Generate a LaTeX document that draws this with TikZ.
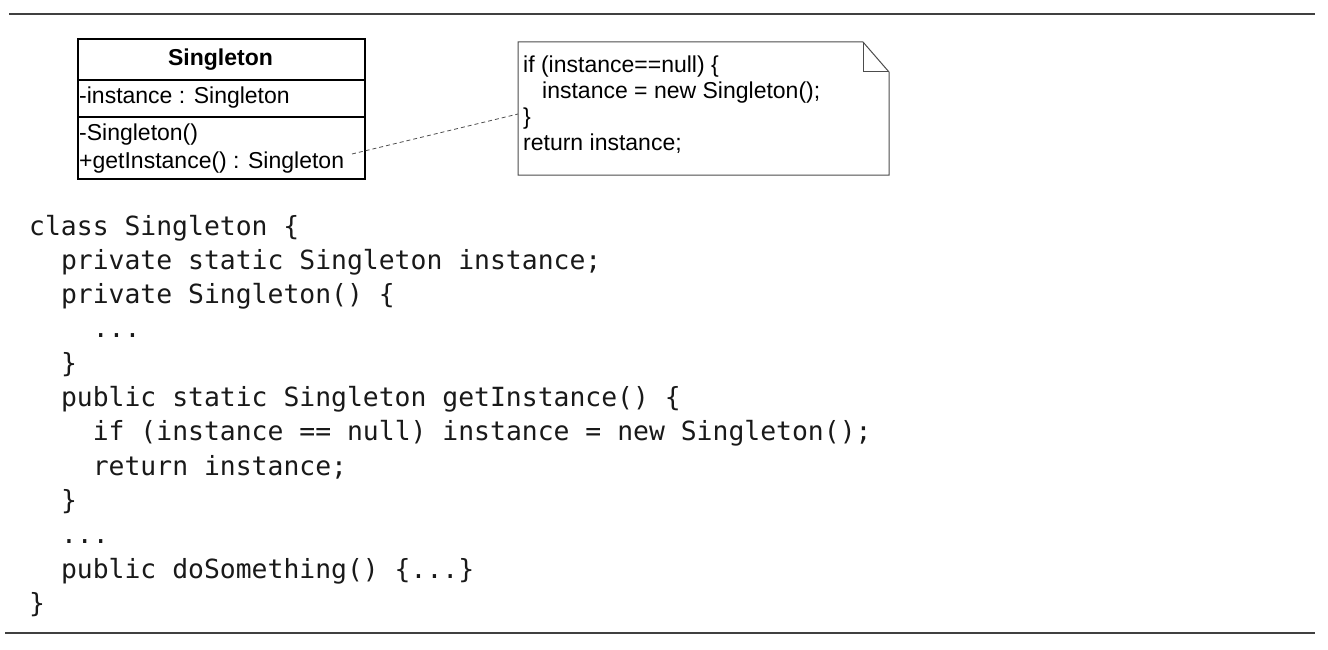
\documentclass[tikz,border=0pt]{standalone}
\usepackage{fontspec}
\setmainfont{Liberation Sans}
\newfontfamily\codefont{DejaVu Sans Mono}
\begin{document}
\begin{tikzpicture}[x=1pt,y=-1pt,
  rulestyle/.style={draw=black!75, line width=2.2pt},
  umltext/.style={inner sep=0pt, anchor=base west, font=\fontsize{23}{26}\selectfont},
  codeline/.style={inner sep=0pt, anchor=base west, font=\codefont\fontsize{26.4}{34}\selectfont, text=black!90}]
\useasboundingbox (0,0) rectangle (1328,650);
% horizontal rules
\coordinate (r1a) at (9,14); \coordinate (r1b) at (1315,14);
\coordinate (r2a) at (5,633); \coordinate (r2b) at (1315,633);
\draw[rulestyle] (r1a) -- (r1b);
\draw[rulestyle] (r2a) -- (r2b);
% class box
\node[draw, line width=1.6pt, minimum width=287pt, minimum height=140pt, inner sep=0pt, anchor=north west] (cls) at (77,38) {};
\coordinate (d1) at (77,80); \coordinate (d2) at (77,117);
\draw[line width=1.6pt] (d1) -- (d1 -| cls.east);
\draw[line width=1.6pt] (d2) -- (d2 -| cls.east);
\node[umltext, anchor=base, font=\bfseries\fontsize{23}{26}\selectfont] (ctitle) at (220.5,66) {Singleton};
\node[umltext] (cattr) at (79,104) {-instance : Singleton};
\node[umltext] (cm1) at (79,141) {-Singleton()};
\node[umltext] (cm2) at (79,168) {+getInstance() : Singleton};
% note
\coordinate (nA) at (518,42); \coordinate (nB) at (863,42); \coordinate (nC) at (889,72);
\coordinate (nD) at (889,175); \coordinate (nE) at (518,175); \coordinate (nF) at (863,72);
\draw[draw=black!70, line width=1pt] (nA) -- (nB) -- (nC) -- (nD) -- (nE) -- cycle;
\draw[draw=black!70, line width=1pt] (nB) -- (nF) -- (nC);
\node[umltext] (n1) at (523,73) {if (instance==null) \{};
\node[umltext] (n2) at (542,99) {instance = new Singleton();};
\node[umltext] (n3) at (523,125) {\}};
\node[umltext] (n4) at (523,151) {return instance;};
% dashed connector
\coordinate (dstart) at (352,154); \coordinate (nwest) at (518,114);
\draw[draw=black!70, line width=0.8pt, dash pattern=on 4pt off 3pt] (dstart) -- (nwest);
% code
\def\pitch{15.9}
\node[codeline] (l1) at (29,235) {class Singleton \{};
\node[codeline] (l2) at (29+2*\pitch,269.3) {private static Singleton instance;};
\node[codeline] (l3) at (29+2*\pitch,303.6) {private Singleton() \{};
\node[codeline] (l4) at (29+4*\pitch,337.9) {...};
\node[codeline] (l5) at (29+2*\pitch,372.2) {\}};
\node[codeline] (l6) at (29+2*\pitch,406.5) {public static Singleton getInstance() \{};
\node[codeline] (l7) at (29+4*\pitch,440.8) {if (instance == null) instance = new Singleton();};
\node[codeline] (l8) at (29+4*\pitch,475.1) {return instance;};
\node[codeline] (l9) at (29+2*\pitch,509.4) {\}};
\node[codeline] (l10) at (29+2*\pitch,543.7) {...};
\node[codeline] (l11) at (29+2*\pitch,578) {public doSomething() \{...\}};
\node[codeline] (l12) at (29,612.3) {\}};
\end{tikzpicture}
\end{document}
